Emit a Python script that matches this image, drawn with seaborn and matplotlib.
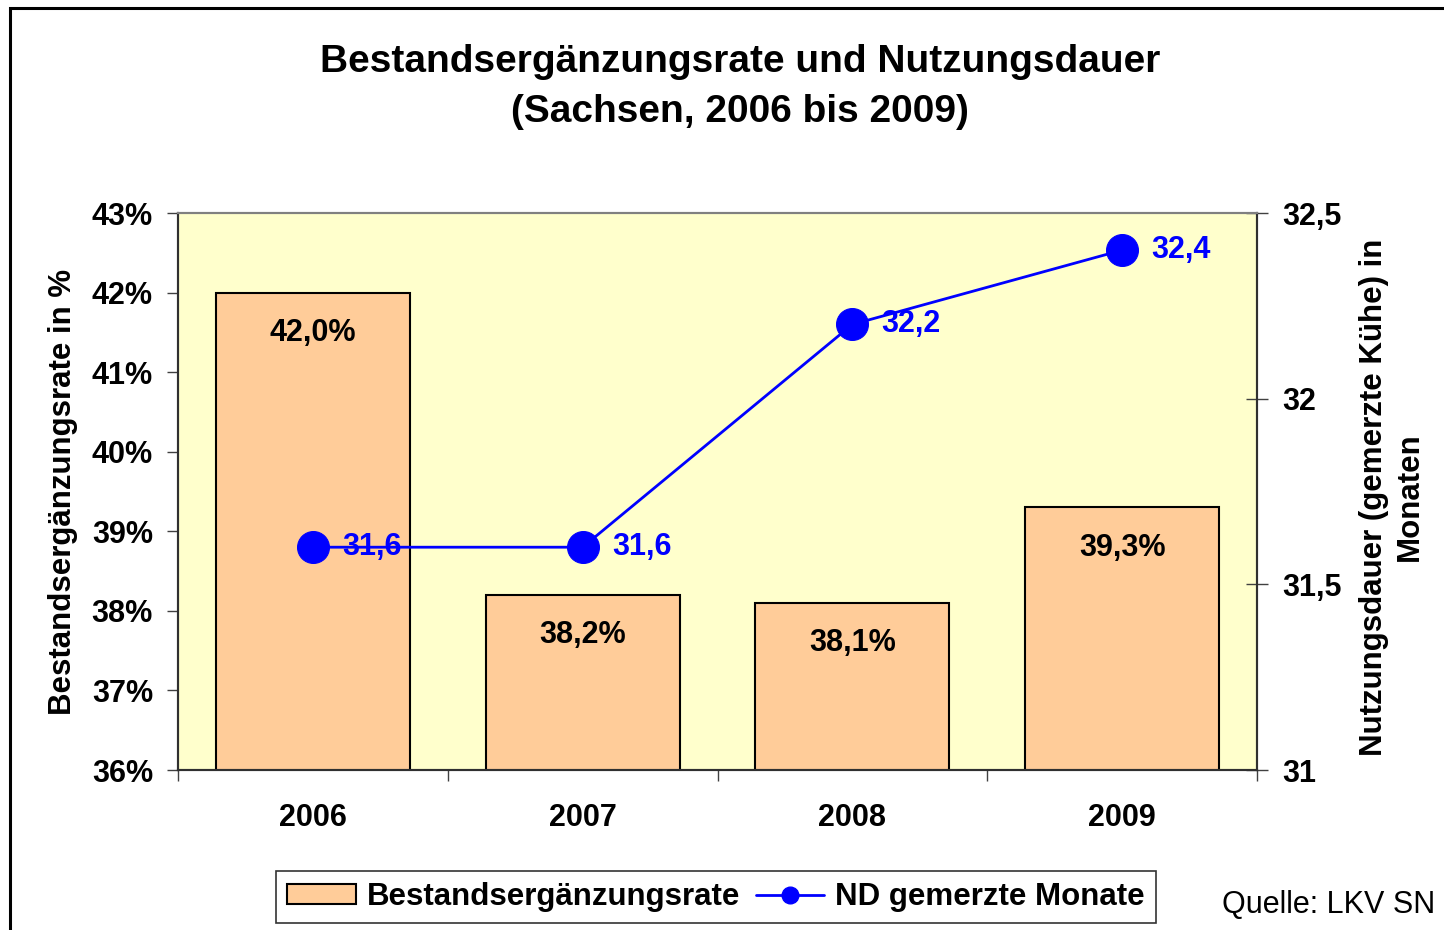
import numpy as np
import pandas as pd
import matplotlib
matplotlib.use("Agg")
import matplotlib.pyplot as plt
import seaborn as sns
from matplotlib.patches import Patch, Rectangle
from matplotlib.lines import Line2D
from matplotlib.ticker import FixedLocator, FuncFormatter

years = ["2006", "2007", "2008", "2009"]
rate = [42.0, 38.2, 38.1, 39.3]          # Bestandsergänzungsrate in %
nd_months = [31.6, 31.6, 32.2, 32.4]     # ND gemerzte Monate
rate_labels = ["42,0%", "38,2%", "38,1%", "39,3%"]
nd_labels = ["31,6", "31,6", "32,2", "32,4"]
left_ticks = [36, 37, 38, 39, 40, 41, 42, 43]
right_ticks = [31, 31.5, 32, 32.5]
right_tick_labels = ["31", "31,5", "32", "32,5"]

sns.set_theme(style="white")
plt.rcParams["font.family"] = ["Liberation Sans", "DejaVu Sans"]
plt.rcParams["text.color"] = "black"
plt.rcParams["axes.labelcolor"] = "black"
plt.rcParams["xtick.color"] = "black"
plt.rcParams["ytick.color"] = "black"

FS = 22
W, H = 1444, 930
fig = plt.figure(figsize=(W / 100, H / 100), dpi=100)
ax = fig.add_axes([178 / W, 1 - 770 / H, (1257 - 178) / W, (770 - 213) / H])
ax.set_facecolor("#FFFFCC")

df = pd.DataFrame({"Jahr": years, "Rate": rate, "ND": nd_months})
sns.barplot(data=df, x="Jahr", y="Rate", ax=ax, color="#FFCC99", saturation=1,
            edgecolor="black", linewidth=1.5, width=0.72, zorder=2)
ax.set_ylim(36, 43)
ax.set_xlim(-0.5, 3.5)
ax.set_xlabel("")
ax.set_ylabel("")

ax2 = ax.twinx()
sns.lineplot(x=np.arange(len(years)), y=nd_months, ax=ax2, color="#0000FF",
             linewidth=2, marker="o", markersize=23, markeredgecolor="#0000FF",
             markerfacecolor="#0000FF", zorder=3)
ax2.set_ylim(31, 32.5)
ax.set_xlim(-0.5, 3.5)
ax2.set_ylabel("")

# left axis ticks
ax.yaxis.set_major_locator(FixedLocator(left_ticks))
ax.yaxis.set_major_formatter(FuncFormatter(lambda v, p: f"{int(round(v))}%"))
ax.tick_params(axis="y", which="major", left=True, direction="out", length=8,
               width=1, color="#404040", labelcolor="black", labelsize=FS, pad=10)
for t in ax.get_yticklabels():
    t.set_fontweight("bold")

# x axis ticks: labels at centers, marks at category borders
ax.set_xticks(range(len(years)))
ax.set_xticklabels(years, fontsize=FS, fontweight="bold", color="black")
ax.tick_params(axis="x", which="major", length=0, pad=24)
ax.set_xticks(np.arange(-0.5, len(years), 1.0), minor=True)
ax.tick_params(axis="x", which="minor", bottom=True, direction="out", length=8,
               width=1, color="#404040")

# right axis ticks
ax2.set_yticks(right_ticks)
ax2.set_yticklabels(right_tick_labels, fontsize=FS, fontweight="bold", color="black")
ax2.tick_params(axis="y", right=True, direction="inout", length=16, width=1,
                color="#404040", pad=10)

for a in (ax, ax2):
    for s in a.spines.values():
        s.set_color("#303030")
        s.set_linewidth(1.5)
    a.spines["top"].set_color("#808080")

# data labels
for i, (v, lab) in enumerate(zip(rate, rate_labels)):
    ax.annotate(lab, (i, v), xytext=(0, -29), textcoords="offset points",
                ha="center", va="center", fontsize=FS, fontweight="bold",
                color="black", zorder=4)
for i, (v, lab) in enumerate(zip(nd_months, nd_labels)):
    ax2.annotate(lab, (i, v), xytext=(21, 0), textcoords="offset points",
                 ha="left", va="center", fontsize=FS, fontweight="bold",
                 color="#0000FF", zorder=5)

# title
fig.text(740 / W, 1 - 62 / H, "Bestandsergänzungsrate und Nutzungsdauer",
         ha="center", va="center", fontsize=28, fontweight="bold", color="black")
fig.text(740 / W, 1 - 112 / H, "(Sachsen, 2006 bis 2009)",
         ha="center", va="center", fontsize=28, fontweight="bold", color="black")

# axis labels
fig.text(63 / W, 1 - 492 / H, "Bestandsergänzungsrate in %", rotation=90,
         ha="center", va="center", fontsize=FS + 0.5, fontweight="bold", color="black")
fig.text(1392 / W, 1 - 497 / H, "Nutzungsdauer (gemerzte Kühe) in\nMonaten",
         rotation=90, ha="center", va="center", fontsize=FS + 0.5, fontweight="bold",
         linespacing=1.25, multialignment="center", color="black")

# legend
handles = [
    Patch(facecolor="#FFCC99", edgecolor="black", linewidth=1.5,
          label="Bestandsergänzungsrate"),
    Line2D([0], [0], color="#0000FF", linewidth=2, marker="o", markersize=12,
           label="ND gemerzte Monate"),
]
leg = fig.legend(handles=handles, loc="center", bbox_to_anchor=(716 / W, 1 - 897 / H),
                 ncol=2, frameon=True, fancybox=False, edgecolor="black",
                 prop={"size": 22.5, "weight": "bold"}, handlelength=2.2,
                 handleheight=0.6, handletextpad=0.35, columnspacing=0.5,
                 borderpad=0.35, labelcolor="black")
leg.get_frame().set_linewidth(1.2)

# source
fig.text(1435 / W, 1 - 905 / H, "Quelle: LKV SN", ha="right", va="center",
         fontsize=22, color="black")

# outer frame
fig.add_artist(Rectangle((10 / W, -0.1), 1.5, 1 - 8 / H + 0.1,
                         transform=fig.transFigure, fill=False,
                         edgecolor="black", linewidth=2.2))

fig.savefig("out.png", dpi=100)
